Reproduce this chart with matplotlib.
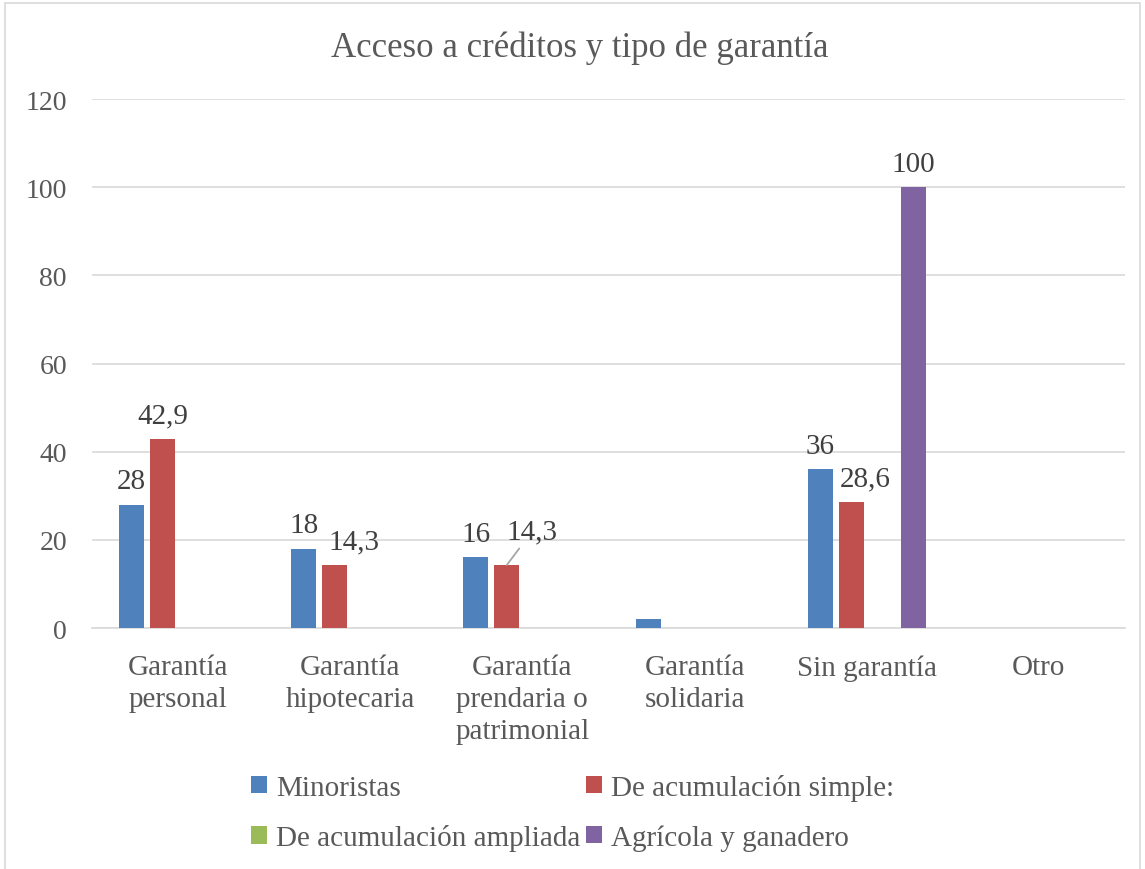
import numpy as np
import matplotlib.pyplot as plt
from matplotlib.patches import Rectangle

# Data
categories = ["Garantía\npersonal", "Garantía\nhipotecaria", "Garantía\nprendaria o\npatrimonial",
              "Garantía\nsolidaria", "Sin garantía", "Otro"]
series_names = ["Minoristas", "De acumulación simple:", "De acumulación ampliada", "Agrícola y ganadero"]
minoristas = [28, 18, 16, 2, 36, 0]
acum_simple = [42.9, 14.3, 14.3, 0, 28.6, 0]
acum_ampliada = [0, 0, 0, 0, 0, 0]
agricola = [0, 0, 0, 0, 100, 0]

# labels shown on the chart (None = no label)
lab_minoristas = ["28", "18", "16", None, "36", None]
lab_simple = ["42,9", "14,3", "14,3", None, "28,6", None]
lab_agricola = [None, None, None, None, "100", None]

colors = ["#4f81bd", "#c0504d", "#9bbb59", "#8064a2"]
txt = "#404040"

plt.rcParams['font.family'] = ['Liberation Serif', 'DejaVu Serif']

fig = plt.figure(figsize=(11.45, 8.7), dpi=100)
ax = fig.add_axes([0.0803, 0.277, 0.9022, 0.608])

x = np.arange(len(categories))
w = 0.145
step = 0.18
offs = [-1.5 * step, -0.5 * step, 0.5 * step, 1.5 * step]
all_series = [minoristas, acum_simple, acum_ampliada, agricola]
bars = []
for vals, c, o, n in zip(all_series, colors, offs, series_names):
    b = ax.bar(x + o, vals, width=w, color=c, label=n, zorder=3)
    bars.append(b)

ax.set_xlim(-0.5, len(categories) - 0.5)
ax.set_ylim(0, 120)
ax.set_yticks(np.arange(0, 121, 20))
ax.yaxis.grid(True, color="#d9d9d9", linewidth=1.2, zorder=0)
for s in ["top", "right", "left"]:
    ax.spines[s].set_visible(False)
ax.spines["bottom"].set_color("#d9d9d9")
ax.spines["bottom"].set_linewidth(1.2)
ax.set_xticks(x)
ax.set_xticklabels(categories, linespacing=1.28)
ax.tick_params(axis="both", length=0, colors="#595959")
ax.tick_params(axis="y", labelsize=20, pad=18)
ax.tick_params(axis="x", labelsize=21, pad=19)

# data labels
def put_label(rect, label, dx=0):
    ax.annotate(label, (rect.get_x() + rect.get_width() / 2, rect.get_height()),
                xytext=(dx, 12), textcoords="offset points",
                ha="center", va="baseline", fontsize=21, color=txt)

for r, l in zip(bars[0], lab_minoristas):
    if l is not None:
        put_label(r, l)
for r, l in zip(bars[3], lab_agricola):
    if l is not None:
        put_label(r, l)
simple_dx = [0, 14, 0, 0, 10, 0]
for i, (r, l) in enumerate(zip(bars[1], lab_simple)):
    if l is None:
        continue
    if i == 2:
        # label moved off the bar, with a leader line
        ax.annotate(l, (r.get_x() + r.get_width() / 2, r.get_height()),
                    xytext=(18, 19), textcoords="offset points",
                    ha="center", va="baseline", fontsize=21, color=txt,
                    arrowprops=dict(arrowstyle="-", color="#a6a6a6", lw=1.3,
                                    shrinkA=1, shrinkB=0))
    else:
        put_label(r, l, simple_dx[i])

fig.text(0.506, 0.944, "Acceso a créditos y tipo de garantía", ha="center", va="center",
         fontsize=25, color="#595959")

# legend filled row by row
h = [bars[0], bars[2], bars[1], bars[3]]
lbl = [series_names[0], series_names[2], series_names[1], series_names[3]]
leg = fig.legend(h, lbl, loc="center", bbox_to_anchor=(0.5, 0.065), ncol=2, frameon=False,
                 fontsize=21, handlelength=0.55, handleheight=0.55, handletextpad=0.3,
                 columnspacing=0.2, labelspacing=0.8)
for t in leg.get_texts():
    t.set_color("#595959")

fig.patches.append(Rectangle((0.004, -0.01), 0.992, 1.005, transform=fig.transFigure,
                             fill=False, edgecolor="#d9d9d9", linewidth=1.2))

fig.savefig("out.png", dpi=100)
